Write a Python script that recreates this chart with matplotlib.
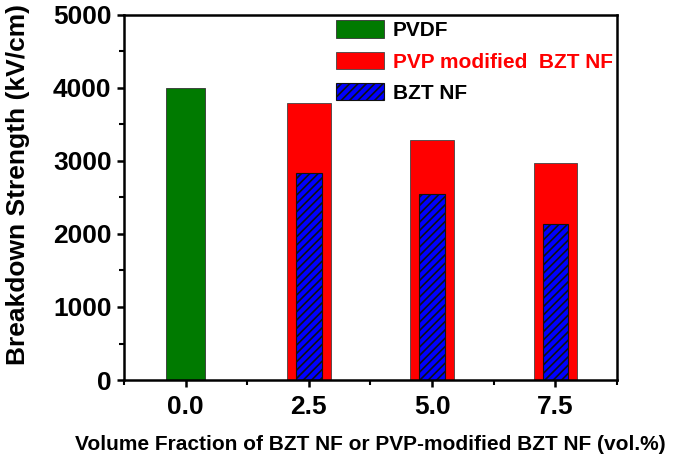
import matplotlib
matplotlib.use("Agg")
import matplotlib.pyplot as plt
from matplotlib.ticker import MultipleLocator
from matplotlib.patches import Patch

plt.rcParams['font.family'] = ['Liberation Sans', 'DejaVu Sans']
plt.rcParams['hatch.linewidth'] = 1.2

x_pvdf = [0.0]
pvdf = [4000]
x_nf = [2.5, 5.0, 7.5]
pvp_bzt = [3800, 3290, 2970]
bzt = [2830, 2550, 2140]
xticks = [0.0, 2.5, 5.0, 7.5]
xticklabels = ["0.0", "2.5", "5.0", "7.5"]

fig = plt.figure(figsize=(6.75, 4.61), dpi=100)
ax = fig.add_axes([0.1837, 0.1757, 0.914 - 0.1837, 0.9675 - 0.1757])

ax.bar(x_pvdf, pvdf, width=0.8, color='#007a00', edgecolor='#333333', linewidth=0.6)
ax.bar(x_nf, pvp_bzt, width=0.88, color='#ff0000', edgecolor='#444444', linewidth=0.6)
ax.bar(x_nf, bzt, width=0.52, color='#0000ff', edgecolor='#111111', linewidth=0.8, hatch='////')

ax.set_xlim(-1.25, 8.75)
ax.set_ylim(0, 5000)
ax.set_xticks(xticks)
ax.set_xticklabels(xticklabels)
ax.xaxis.set_minor_locator(MultipleLocator(1.25))
ax.yaxis.set_major_locator(MultipleLocator(1000))
ax.yaxis.set_minor_locator(MultipleLocator(500))
ax.tick_params(which='major', direction='out', length=5, width=1.8, labelsize=19, pad=4)
ax.tick_params(which='minor', direction='out', length=3.5, width=1.5)
ax.tick_params(axis='x', which='major', pad=6)
for lbl in ax.get_xticklabels() + ax.get_yticklabels():
    lbl.set_fontweight('bold')
for sp in ax.spines.values():
    sp.set_linewidth(1.8)

ax.set_ylabel('Breakdown Strength (kV/cm)', fontsize=19, fontweight='bold')
ax.yaxis.set_label_coords(-0.19, 0.536)
ax.set_xlabel('Volume Fraction of BZT NF or PVP-modified BZT NF (vol.%)', fontsize=15,
              fontweight='bold', labelpad=11)

handles = [
    Patch(facecolor='#007a00', edgecolor='#333333', linewidth=0.6, label='PVDF'),
    Patch(facecolor='#ff0000', edgecolor='#444444', linewidth=0.6, label='PVP modified  BZT NF'),
    Patch(facecolor='#0000ff', edgecolor='#111111', linewidth=0.8, hatch='////', label='BZT NF'),
]
leg = ax.legend(handles=handles, loc='upper left', bbox_to_anchor=(0.40, 1.025), frameon=False,
                prop={'size': 15, 'weight': 'bold'}, handlelength=2.3, handleheight=0.9,
                handletextpad=0.45, labelspacing=0.55, borderaxespad=0.3)
leg.get_texts()[1].set_color('#ff0000')

fig.savefig('out.png', dpi=100)
